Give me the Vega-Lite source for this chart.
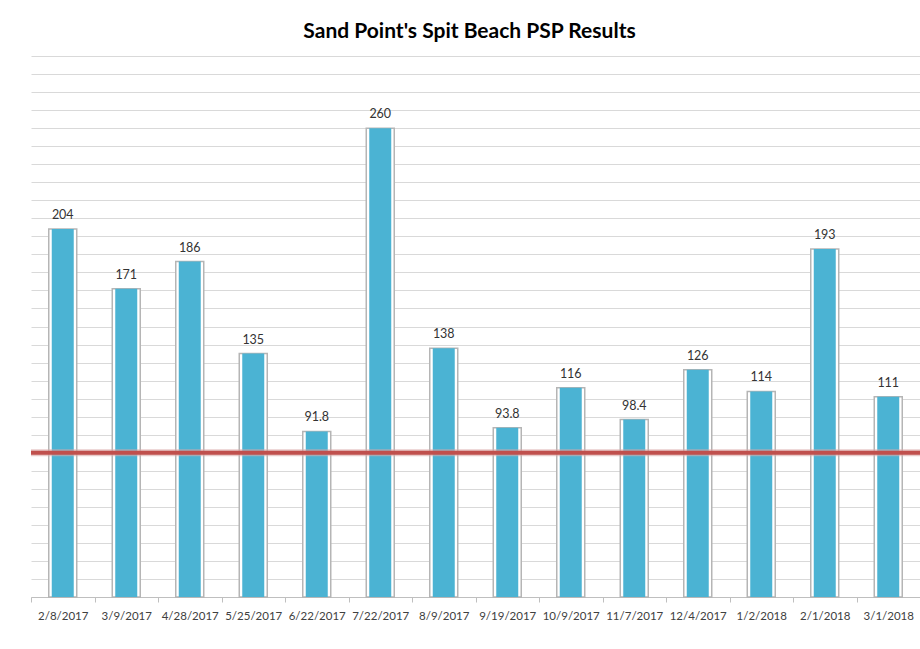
{
  "$schema": "https://vega.github.io/schema/vega-lite/v6.json",
  "autosize": {"type": "none"},
  "width": 889,
  "height": 541,
  "padding": {"left": 31, "top": 56, "right": 0, "bottom": 52},
  "background": "white",
  "title": {
    "text": "Sand Point's Spit Beach PSP Results",
    "font": "Lato",
    "fontSize": 21,
    "fontWeight": "bold",
    "color": "#000000",
    "anchor": "middle",
    "offset": 14,
    "dx": -6
  },
  "config": {
    "view": {"stroke": null},
    "font": "Lato",
    "axisY": {"tickCount": 40, "grid": true, "gridColor": "#d9d9d9", "gridWidth": 1, "labels": false, "ticks": false, "domain": false, "title": null}
  },
  "datasets": {
    "psp": [
      {"date": "2/8/2017", "psp": 204},
      {"date": "3/9/2017", "psp": 171},
      {"date": "4/28/2017", "psp": 186},
      {"date": "5/25/2017", "psp": 135},
      {"date": "6/22/2017", "psp": 91.8},
      {"date": "7/22/2017", "psp": 260},
      {"date": "8/9/2017", "psp": 138},
      {"date": "9/19/2017", "psp": 93.8},
      {"date": "10/9/2017", "psp": 116},
      {"date": "11/7/2017", "psp": 98.4},
      {"date": "12/4/2017", "psp": 126},
      {"date": "1/2/2018", "psp": 114},
      {"date": "2/1/2018", "psp": 193},
      {"date": "3/1/2018", "psp": 111}
    ],
    "limit": [{"limit": 80}]
  },
  "layer": [
    {
      "data": {"name": "psp"},
      "mark": {"type": "bar", "size": 28, "fill": "#ffffff", "stroke": "#b5b5b5", "strokeWidth": 1.5},
      "encoding": {
        "x": {
          "field": "date", "type": "nominal", "sort": null,
          "scale": {"paddingInner": 0, "paddingOuter": 0},
          "axis": {
            "title": null, "labelAngle": 0, "labelFont": "Lato", "labelFontSize": 11.5,
            "labelColor": "#404040", "domainColor": "#bfbfbf", "tickColor": "#bfbfbf",
            "tickBand": "extent", "tickSize": 5, "labelPadding": 8, "grid": false
          }
        },
        "y": {
          "field": "psp", "type": "quantitative",
          "scale": {"domain": [0, 300], "nice": false},
          "axis": {
            "tickCount": 40,
            "values": [0,10,20,30,40,50,60,70,80,90,100,110,120,130,140,150,160,170,180,190,200,210,220,230,240,250,260,270,280,290,300]
          }
        }
      }
    },
    {
      "data": {"name": "psp"},
      "mark": {"type": "bar", "size": 22, "fill": "#4BB3D3"},
      "encoding": {
        "x": {"field": "date", "type": "nominal", "sort": null},
        "y": {"field": "psp", "type": "quantitative"}
      }
    },
    {
      "data": {"name": "psp"},
      "mark": {"type": "text", "baseline": "bottom", "dy": -7, "fontSize": 12.5, "font": "Lato", "color": "#333333"},
      "encoding": {
        "x": {"field": "date", "type": "nominal", "sort": null},
        "y": {"field": "psp", "type": "quantitative"},
        "text": {"field": "psp", "type": "quantitative"}
      }
    },
    {
      "data": {"name": "limit"},
      "mark": {"type": "rule", "color": "#d8a8a6", "strokeWidth": 7, "opacity": 0.6},
      "encoding": {"y": {"field": "limit", "type": "quantitative"}}
    },
    {
      "data": {"name": "limit"},
      "mark": {"type": "rule", "color": "#C0504D", "strokeWidth": 4},
      "encoding": {"y": {"field": "limit", "type": "quantitative"}}
    }
  ]
}
